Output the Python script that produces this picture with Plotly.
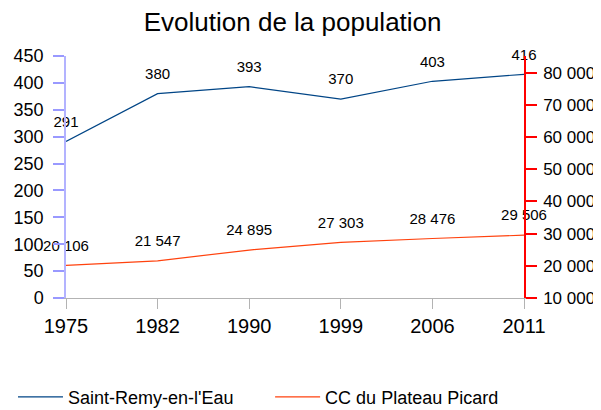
import plotly.graph_objects as go

years = ["1975", "1982", "1990", "1999", "2006", "2011"]
saint_remy = [291, 380, 393, 370, 403, 416]
cc_plateau = [20106, 21547, 24895, 27303, 28476, 29506]
left_ticks = [0, 50, 100, 150, 200, 250, 300, 350, 400, 450]
right_ticks = [10000, 20000, 30000, 40000, 50000, 60000, 70000, 80000]

FONT = "Liberation Sans, Arial, sans-serif"
# the page body has an 8px default margin, so the figure is 8px smaller
W, H = 593, 402

def fmt(v):
    return f"{v:,}".replace(",", " ")

fig = go.Figure()
fig.add_trace(go.Scatter(
    x=years, y=saint_remy, name="Saint-Remy-en-l'Eau",
    mode="lines+markers+text", text=[str(v) for v in saint_remy],
    marker=dict(size=16, color="rgba(0,0,0,0)"),
    textposition="top center", textfont=dict(size=15, color="black", family=FONT),
    line=dict(color="#004586", width=1.2), cliponaxis=False, legend="legend",
))
fig.add_trace(go.Scatter(
    x=years, y=cc_plateau, name="CC du Plateau Picard", yaxis="y2",
    mode="lines+markers+text", text=[fmt(v) for v in cc_plateau],
    marker=dict(size=16, color="rgba(0,0,0,0)"),
    textposition="top center", textfont=dict(size=15, color="black", family=FONT),
    line=dict(color="#ff420e", width=1.2), cliponaxis=False, legend="legend2",
))

legend_common = dict(orientation="h", xref="container", yref="container",
                     xanchor="left", yanchor="middle", y=0.032,
                     font=dict(size=18, family=FONT, color="black"),
                     bgcolor="rgba(0,0,0,0)", itemwidth=45)

fig.update_layout(
    width=W, height=H,
    margin=dict(l=58, r=77, t=48, b=112, autoexpand=False),
    paper_bgcolor="white", plot_bgcolor="white",
    font=dict(family=FONT, color="black"),
    title=dict(text="Evolution de la population", x=0.48, xanchor="center",
               y=0.965, yanchor="middle", font=dict(size=26, color="black", family=FONT)),
    xaxis=dict(type="category", range=[0, 5], showgrid=False, zeroline=False,
               showline=True, linecolor="#b3b3b3", linewidth=1, automargin=False,
               ticks="outside", ticklen=10, tickcolor="#b3b3b3",
               tickfont=dict(size=20, family=FONT, color="black")),
    yaxis=dict(range=[0, 450], tickvals=left_ticks, showgrid=False, zeroline=False,
               showline=True, linecolor="#b3b3ff", linewidth=1.5, automargin=False,
               ticks="outside", ticklen=11, tickcolor="#9999ff", tickwidth=1.5,
               ticklabelstandoff=6,
               tickfont=dict(size=18, family=FONT, color="black")),
    yaxis2=dict(range=[10000, 85155], tickvals=right_ticks,
                ticktext=[fmt(v) for v in right_ticks], automargin=False,
                overlaying="y", side="right", showgrid=False, zeroline=False,
                showline=True, linecolor="#ff0000", linewidth=1.5,
                ticks="outside", ticklen=11, tickcolor="#ff0000", tickwidth=1.5,
                ticklabelstandoff=3,
                tickfont=dict(size=17, family=FONT, color="black")),
    legend=dict(x=0.0084, **legend_common),
    legend2=dict(x=0.442, **legend_common),
    showlegend=True,
)

fig.write_html("out.html")
